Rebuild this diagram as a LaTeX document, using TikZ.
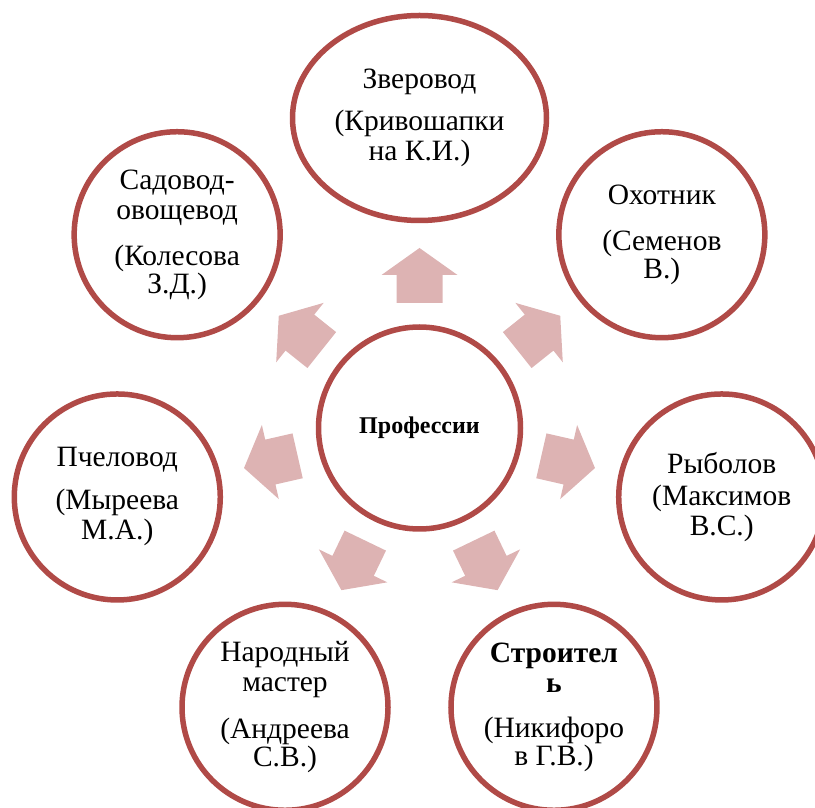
\documentclass[tikz,border=0pt]{standalone}
\usepackage{fontspec}
\setmainfont{Liberation Serif}
\usetikzlibrary{shapes.geometric}
\definecolor{ringred}{RGB}{176,74,71}
\definecolor{arrowpink}{RGB}{221,179,179}
\begin{document}
\begin{tikzpicture}[x=1pt,y=1pt,
  ring/.style={circle, draw=ringred, line width=5.5pt, fill=white, minimum size=206pt, inner sep=0pt, align=center, font=\fontsize{29.5}{30}\selectfont},
  oval/.style={ellipse, draw=ringred, line width=5.5pt, fill=white, minimum width=254pt, minimum height=205pt, inner sep=0pt, align=center, font=\fontsize{29.5}{30}\selectfont},
  hub/.style={circle, draw=ringred, line width=5.5pt, fill=white, minimum size=202pt, inner sep=0pt, font=\bfseries\fontsize{24}{26}\selectfont},
  blockarrow/.style={fill=arrowpink}]
\useasboundingbox (0,0) rectangle (815,807);
\clip (0,0) rectangle (815,807);
\node[hub] (hub) at (419.5,379) {Профессии};
\foreach \a in {90, 38.5714, -12.8571, -64.2857, -115.7143, -167.1429, 141.4286}{
  \begin{scope}[shift={(hub.center)}, rotate=\a]
    \fill[blockarrow] (125,-23) -- (153,-23) -- (153,-38) -- (180,0) -- (153,38) -- (153,23) -- (125,23) -- cycle;
  \end{scope}
}
\node[oval] (zv) at ([shift={(90:310)}]hub.center) {Зверовод\\[12pt](Кривошапки\\на К.И.)};
\node[ring] (oh) at ([shift={(38.5714:310)}]hub.center) {Охотник\\[16pt](Семенов\\[-2pt]В.)};
\node[ring] (ry) at ([shift={(-12.8571:310)}]hub.center) {Рыболов\\[2pt](Максимов\\В.С.)};
\node[ring] (st) at ([shift={(-64.2857:310)}]hub.center) {\textbf{Строител}\\\textbf{ь}\\[15pt](Никифоро\\[-2pt]в Г.В.)};
\node[ring] (nm) at ([shift={(-115.7143:310)}]hub.center) {Народный\\мастер\\[17pt](Андреева\\[-2pt]С.В.)};
\node[ring] (pc) at ([shift={(-167.1429:310)}]hub.center) {Пчеловод\\[13pt](Мыреева\\М.А.)};
\node[ring] (sd) at ([shift={(141.4286:310)}]hub.center) {Садовод-\\овощевод\\[16pt](Колесова\\[-2pt]З.Д.)};
\end{tikzpicture}
\end{document}
